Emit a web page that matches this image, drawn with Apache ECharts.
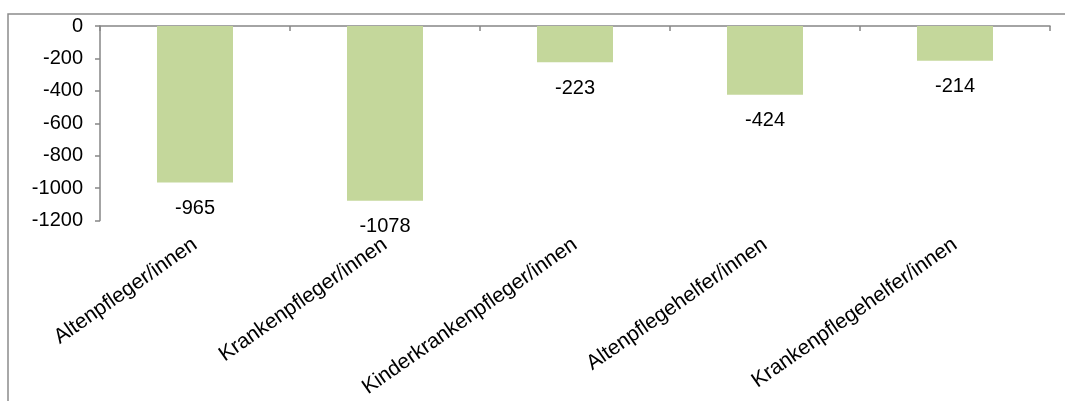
<!DOCTYPE html>
<html>
<head>
<meta charset="utf-8">
<script src="https://cdn.jsdelivr.net/npm/echarts@6/dist/echarts.min.js"></script>
<style>
  html, body { margin: 0; padding: 0; background: #ffffff; }
  #chart { width: 1065px; height: 401px; }
</style>
</head>
<body>
<div id="chart"></div>
<script>
// Occupations and the change in the number of workers for each
const categories = [
  'Altenpfleger/innen',
  'Krankenpfleger/innen',
  'Kinderkrankenpfleger/innen',
  'Altenpflegehelfer/innen',
  'Krankenpflegehelfer/innen'
];
const values = [-965, -1078, -223, -424, -214];

// Value axis scale
const yMin = -1200;
const yMax = 0;
const yStep = 200;

const gray = '#868686';
const font = 'Liberation Sans, Arial, sans-serif';

const chart = echarts.init(document.getElementById('chart'), null, { renderer: 'canvas' });

chart.setOption({
  animation: false,
  backgroundColor: '#ffffff',
  graphic: [{
    // chart frame
    type: 'rect',
    shape: { x: 8, y: 14, width: 1100, height: 450 },
    style: { fill: 'none', stroke: '#8c8c8c', lineWidth: 1.5 },
    silent: true
  }],
  grid: { left: 100, right: 15, top: 26, bottom: 180.5 },
  xAxis: [{
    type: 'category',
    data: categories,
    position: 'top',
    boundaryGap: true,
    axisLine: { show: true, onZero: false, lineStyle: { color: gray, width: 1.5 } },
    axisTick: { show: true, inside: true, length: 5, interval: 0, lineStyle: { color: gray, width: 1.5 } },
    axisLabel: { show: false },
    splitLine: { show: false }
  }, {
    type: 'category',
    data: categories,
    position: 'bottom',
    axisLine: { show: false, onZero: false },
    axisTick: { show: false },
    axisLabel: {
      interval: 0,
      rotate: 35,
      margin: 22,
      color: '#000',
      fontFamily: font,
      fontSize: 21
    },
    splitLine: { show: false }
  }],
  yAxis: {
    type: 'value',
    min: yMin,
    max: yMax,
    interval: yStep,
    axisLine: { show: true, lineStyle: { color: gray, width: 1.5 } },
    axisTick: { show: true, length: 5, lineStyle: { color: gray, width: 1.5 } },
    axisLabel: {
      color: '#000',
      fontFamily: font,
      fontSize: 20,
      margin: 17,
      formatter: v => String(v)
    },
    splitLine: { show: false }
  },
  series: [{
    type: 'bar',
    xAxisIndex: 0,
    data: values,
    barWidth: 76,
    itemStyle: { color: '#c4d79b' },
    label: {
      show: true,
      position: 'bottom',
      distance: 16,
      color: '#000',
      fontFamily: font,
      fontSize: 20
    }
  }]
});
</script>
</body>
</html>
